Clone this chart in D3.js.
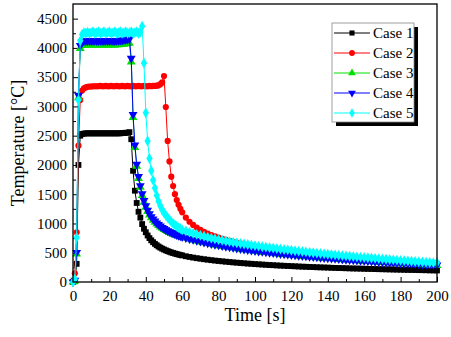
<!DOCTYPE html>
<html>
<head>
<meta charset="utf-8">
<script src="https://cdn.jsdelivr.net/npm/d3@7"></script>
<style>
  body { margin: 0; background: #fff; }
  svg text { font-family: "Liberation Serif", "Times New Roman", Times, serif; fill: #000; }
</style>
</head>
<body>
<div id="chart"></div>
<script>
// time samples [s]: every second up to 60 s, every 2 s afterwards
var times = [
  0,1,2,3,4,5,6,7,8,9,10,11,12,13,14,15,16,17,18,19,
  20,21,22,23,24,25,26,27,28,29,30,31,32,33,34,35,36,37,38,39,
  40,41,42,43,44,45,46,47,48,49,50,51,52,53,54,55,56,57,58,59,60,
  62,64,66,68,70,72,74,76,78,80,82,84,86,88,90,92,94,96,98,100,
  102,104,106,108,110,112,114,116,118,120,122,124,126,128,130,132,134,136,138,140,
  142,144,146,148,150,152,154,156,158,160,162,164,166,168,170,172,174,176,178,180,
  182,184,186,188,190,192,194,196,198,200
];

var case1 = [
  0,20,310,2000,2500,2530,2535,2540,2540,2540,
  2540,2540,2540,2540,2540,2540,2540,2540,2540,2540,
  2540,2540,2540,2540,2540,2540,2540,2545,2545,2550,
  2550,2560,2440,1900,1560,1350,1200,1100,990,910,
  850,795,750,712,680,652,628,606,587,570,
  555,541,528,516,505,495,486,477,469,461,454,
  440,428,417,407,398,389,381,373,366,359,
  353,347,341,335,330,325,320,315,311,306,
  302,298,294,290,287,283,280,277,274,271,
  268,265,262,260,257,255,252,250,248,246,
  243,241,239,237,235,233,231,230,228,226,
  224,223,221,219,218,216,215,213,212,210,
  209,207,206,205,203,202,201,199,198,197
];

var case2 = [
  0,150,850,2330,3110,3270,3310,3325,3335,3340,
  3340,3345,3345,3345,3345,3350,3345,3345,3350,3345,
  3345,3350,3345,3345,3350,3345,3345,3350,3345,3345,
  3350,3345,3345,3350,3345,3345,3350,3345,3345,3350,
  3345,3345,3350,3345,3350,3350,3355,3360,3380,3410,
  3520,2990,2410,2060,1800,1640,1500,1400,1320,1250,1190,
  1100,1030,975,930,890,857,828,802,779,758,
  739,721,704,688,673,659,645,632,619,606,
  593,581,569,558,548,538,529,520,511,503,
  495,489,482,476,470,464,458,452,447,441,
  436,431,426,421,416,411,406,402,397,393,
  388,384,380,376,372,368,364,360,356,352,
  348,345,341,338,334,331,327,324,321,318
];

var case3 = [
  0,20,480,3150,3990,4040,4045,4050,4050,4050,
  4050,4050,4055,4050,4050,4055,4050,4050,4055,4050,
  4050,4055,4050,4050,4055,4055,4060,4060,4065,4070,
  4075,4080,3760,2810,2300,1980,1770,1620,1480,1365,
  1278,1205,1145,1097,1058,1024,993,966,941,918,
  898,880,863,848,834,821,809,797,787,776,767,
  749,732,716,701,686,672,659,646,634,622,
  611,600,590,580,570,561,552,543,535,527,
  519,511,504,497,490,483,476,470,464,458,
  452,446,440,434,428,423,417,412,407,402,
  397,392,387,382,377,373,368,364,359,355,
  351,347,343,339,335,331,327,323,320,316,
  312,309,305,302,298,295,292,288,285,282
];

var case4 = [
  0,30,505,3190,4040,4100,4115,4120,4120,4120,
  4120,4120,4125,4120,4120,4125,4120,4120,4125,4120,
  4120,4125,4120,4120,4125,4125,4130,4130,4135,4140,
  4145,4150,3820,2860,2340,2010,1800,1645,1505,1390,
  1300,1225,1165,1115,1075,1040,1008,980,955,932,
  911,892,875,859,844,830,817,805,794,783,773,
  755,738,722,707,692,678,665,652,640,628,
  617,606,596,586,576,567,558,549,541,533,
  525,517,510,503,496,489,482,476,470,464,
  458,452,446,440,434,429,423,418,413,408,
  403,398,393,388,383,379,374,370,365,361,
  357,353,349,345,341,337,333,329,326,322,
  318,315,311,308,304,301,298,294,291,288
];

var case5 = [
  0,50,760,3110,4120,4230,4260,4250,4270,4250,
  4260,4275,4250,4260,4275,4250,4260,4275,4250,4260,
  4275,4250,4260,4275,4250,4260,4275,4250,4260,4275,
  4250,4260,4275,4250,4260,4275,4250,4270,4370,3740,
  2890,2410,2110,1900,1740,1605,1480,1380,1300,1235,
  1180,1140,1100,1065,1030,1000,975,952,930,910,890,
  873,851,831,813,797,781,765,750,736,723,
  712,700,689,678,668,658,649,640,630,621,
  612,603,595,587,579,571,564,556,549,542,
  534,528,521,514,506,500,494,487,481,475,
  469,463,457,451,446,440,434,429,424,419,
  414,409,404,399,394,389,384,379,374,369,
  364,360,355,351,346,342,338,334,331,328
];

var seriesNames = ["Case 1", "Case 2", "Case 3", "Case 4", "Case 5"];
var seriesValues = [case1, case2, case3, case4, case5];
var seriesColors = ["#000000", "#ff0000", "#00e000", "#0000ff", "#00ffff"];
var seriesSymbols = [d3.symbolSquare, d3.symbolCircle, d3.symbolTriangle, d3.symbolTriangle, d3.symbolDiamond];
var seriesRotate = [0, 0, 0, 180, 0];

var xTicks = [0, 20, 40, 60, 80, 100, 120, 140, 160, 180, 200];
var yTicks = [0, 500, 1000, 1500, 2000, 2500, 3000, 3500, 4000, 4500];

var W = 451, H = 337;
var margin = {left: 73, right: 14, top: 4, bottom: 55};

var svg = d3.select("#chart")
  .append("svg")
  .attr("width", W)
  .attr("height", H);

var x = d3.scaleLinear().domain([0, 200]).range([margin.left, W - margin.right]);
var y = d3.scaleLinear().domain([0, 4750]).range([H - margin.bottom, margin.top]);

// minor ticks first, then major ticks with labels (all pointing inward)
svg.append("g")
  .attr("transform", "translate(0," + (H - margin.bottom) + ")")
  .call(d3.axisBottom(x).tickValues(d3.range(10, 200, 20)).tickSize(-3).tickFormat(""))
  .call(g => g.select(".domain").remove());
var xAxis = svg.append("g")
  .attr("transform", "translate(0," + (H - margin.bottom) + ")")
  .call(d3.axisBottom(x).tickValues(xTicks).tickFormat(d3.format("d")).tickSize(-5).tickPadding(8));
xAxis.select(".domain").remove();
xAxis.attr("font-size", 15);

svg.append("g")
  .attr("transform", "translate(" + margin.left + ",0)")
  .call(d3.axisLeft(y).tickValues(d3.range(250, 4750, 500)).tickSize(-3).tickFormat(""))
  .call(g => g.select(".domain").remove());
var yAxis = svg.append("g")
  .attr("transform", "translate(" + margin.left + ",0)")
  .call(d3.axisLeft(y).tickValues(yTicks).tickFormat(d3.format("d")).tickSize(-5).tickPadding(6));
yAxis.select(".domain").remove();
yAxis.attr("font-size", 15);
svg.selectAll(".tick line").attr("stroke", "#000").attr("stroke-width", 1);

// series: thin line plus a marker at every sample
var line = d3.line()
  .x(function (d) { return x(d[0]); })
  .y(function (d) { return y(d[1]); });

seriesValues.forEach(function (vals, i) {
  var pts = times.map(function (t, j) { return [t, vals[j]]; });
  var g = svg.append("g").attr("class", "series");
  g.append("path")
    .datum(pts)
    .attr("d", line)
    .attr("fill", "none")
    .attr("stroke", seriesColors[i])
    .attr("stroke-width", 1);
  g.selectAll("path.marker")
    .data(pts)
    .enter()
    .append("path")
    .attr("class", "marker")
    .attr("d", d3.symbol().type(seriesSymbols[i]).size(i === 1 ? 30 : 34))
    .attr("transform", function (d) {
      return "translate(" + x(d[0]) + "," + y(d[1]) + ") rotate(" + seriesRotate[i] + ")";
    })
    .attr("fill", seriesColors[i]);
});

// plot frame
svg.append("rect")
  .attr("x", margin.left)
  .attr("y", margin.top)
  .attr("width", W - margin.left - margin.right)
  .attr("height", H - margin.top - margin.bottom)
  .attr("fill", "none")
  .attr("stroke", "#000")
  .attr("stroke-width", 1.3);

// axis titles
svg.append("text")
  .attr("x", 255)
  .attr("y", 321)
  .attr("text-anchor", "middle")
  .attr("font-size", 18)
  .text("Time [s]");

svg.append("text")
  .attr("transform", "translate(24," + ((margin.top + H - margin.bottom) / 2) + ") rotate(-90)")
  .attr("text-anchor", "middle")
  .attr("font-size", 18)
  .text("Temperature [\u00B0C]");

// legend box with drop shadow
var legend = svg.append("g");
legend.append("rect")
  .attr("x", 336).attr("y", 27).attr("width", 82).attr("height", 99)
  .attr("fill", "#000");
legend.append("rect")
  .attr("x", 332).attr("y", 23).attr("width", 82).attr("height", 99)
  .attr("fill", "#fff").attr("stroke", "#888").attr("stroke-width", 0.8);

seriesNames.forEach(function (name, i) {
  var cy = 33 + i * 20;
  legend.append("line")
    .attr("x1", 334).attr("x2", 370).attr("y1", cy).attr("y2", cy)
    .attr("stroke", seriesColors[i]).attr("stroke-width", 1);
  legend.append("path")
    .attr("d", d3.symbol().type(seriesSymbols[i]).size(26))
    .attr("transform", "translate(352," + cy + ") rotate(" + seriesRotate[i] + ")")
    .attr("fill", seriesColors[i]);
  legend.append("text")
    .attr("x", 373).attr("y", cy + 5)
    .attr("font-size", 15)
    .text(name);
});
</script>
</body>
</html>
